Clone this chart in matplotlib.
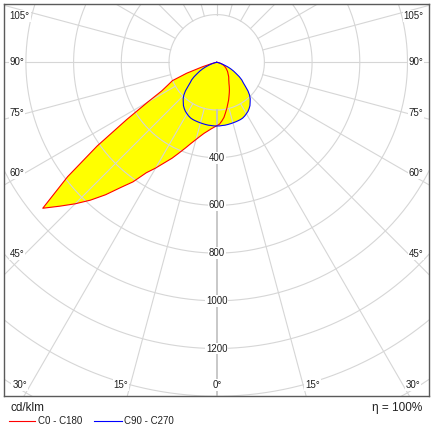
import numpy as np
import matplotlib.pyplot as plt
from matplotlib.lines import Line2D

plt.rcParams['font.family'] = ['Liberation Sans', 'DejaVu Sans']

# luminous intensity (cd/klm) against gamma angle, 2.5 deg steps from 0 to 90
gamma = np.arange(0, 90.1, 2.5)
c180 = [266, 273, 281, 291, 302, 317, 335, 356, 382, 411, 444, 475, 512, 549,
        612, 662, 725, 784, 839, 893, 952, 788, 612, 449, 335, 260, 226, 201,
        134, 63, 25, 8, 0, 0, 0, 0, 0]
c0 = [266, 260, 247, 233, 214, 197, 180, 166, 151, 138, 126, 114, 103, 95,
      88, 83, 78, 72, 67, 63, 59, 54, 50, 46, 42, 38, 34, 30, 25, 21, 17, 12,
      8, 5, 2, 1, 0]
c90 = [267, 267, 266, 266, 265, 264, 263, 262, 261, 260, 258, 254, 249, 244,
       237, 229, 218, 208, 195, 178, 157, 140, 128, 112, 94, 80, 65, 50, 34,
       22, 13, 6, 0, 0, 0, 0, 0]
c270 = [267, 267, 266, 266, 265, 264, 263, 262, 261, 260, 258, 254, 249, 244,
        237, 229, 218, 208, 195, 178, 157, 140, 128, 112, 94, 80, 65, 50, 34,
        22, 13, 6, 0, 0, 0, 0, 0]

ring_values = [400, 600, 800, 1000, 1200]
side_labels = ['105°', '90°', '75°', '60°', '45°']
bottom_labels = ['30°', '15°', '0°', '15°', '30°']

# pixel layout of the reference
W, H = 436, 428
CX, CY = 216.7, 62.3          # pole of the diagram, in pixels
S = 200 / 47.7                # cd/klm per pixel
BOX = (4, 4, 429, 396)        # left, top, right, bottom


def px(xp, yp):
    return (xp - CX) * S, (CY - yp) * S


def outline(left, right):
    g = np.radians(gamma)
    left = np.asarray(left, float)
    right = np.asarray(right, float)
    x = np.concatenate([-left[::-1] * np.sin(g[::-1]), right * np.sin(g)])
    y = np.concatenate([-left[::-1] * np.cos(g[::-1]), -right * np.cos(g)])
    return x, y


fig = plt.figure(figsize=(W / 100, H / 100), dpi=100)
l, t, r, b = BOX
ax = fig.add_axes([l / W, (H - b) / H, (r - l) / W, (b - t) / H])
x0, y1 = px(l, t)
x1, y0 = px(r, b)
ax.set_xlim(x0, x1)
ax.set_ylim(y0, y1)
ax.set_xticks([])
ax.set_yticks([])
for sp in ax.spines.values():
    sp.set_color('#5a5a5a')
    sp.set_linewidth(1.0)

grid_col = '#d6d6d6'

# yellow fill of both planes
xa, ya = outline(c180, c0)
xb, yb = outline(c270, c90)
ax.fill(xa, ya, color='#ffff00', lw=0, zorder=1)
ax.fill(xb, yb, color='#ffff00', lw=0, zorder=1)

# rings
th = np.linspace(0, 2 * np.pi, 721)
for rv in range(200, 2001, 200):
    ax.plot(rv * np.sin(th), rv * np.cos(th), color=grid_col, lw=0.8, zorder=2)

# spokes every 15 deg, starting at the 200 ring
for a in range(0, 360, 15):
    ar = np.radians(a)
    col, lw = (grid_col, 0.8) if a != 0 else ('#c4c4c4', 1.3)
    ax.plot([200 * np.sin(ar), 2500 * np.sin(ar)],
            [-200 * np.cos(ar), -2500 * np.cos(ar)],
            color=col, lw=lw, zorder=2)

ax.plot(xa, ya, color='#ff0000', lw=0.8, zorder=3)
ax.plot(xb, yb, color='#0000ff', lw=0.8, zorder=3)

box = dict(facecolor='white', edgecolor='none', pad=0.6)
for rv in ring_values:
    ax.text(0, -rv, str(rv), ha='center', va='center', fontsize=7,
            color='#202020', bbox=box, zorder=5)

side_y = [16, 62.3, 113.3, 173.3, 254.3]
for lab, yp in zip(side_labels, side_y):
    ax.text(*px(9.5, yp), lab, ha='left', va='center', fontsize=7,
            color='#202020', bbox=box, zorder=5)
    ax.text(*px(423.5, yp), lab, ha='right', va='center', fontsize=7,
            color='#202020', bbox=box, zorder=5)

bottom_x = [19.7, 121, 217, 312.7, 413]
for lab, xp in zip(bottom_labels, bottom_x):
    ax.text(*px(xp, 385), lab, ha='center', va='center', fontsize=7,
            color='#202020', bbox=box, zorder=5)

# captions and legend under the frame
fig.text(10 / W, 1 - 408 / H, 'cd/klm', ha='left', va='center', fontsize=8.5,
         color='#202020')
fig.text(422 / W, 1 - 408 / H, 'η = 100%', ha='right', va='center',
         fontsize=8.5, color='#202020')
fig.add_artist(Line2D([9 / W, 35 / W], [1 - 420.7 / H] * 2, color='#ff0000',
                      lw=0.8, transform=fig.transFigure))
fig.text(38 / W, 1 - 421 / H, 'C0 - C180', ha='left', va='center', fontsize=7,
         color='#202020')
fig.add_artist(Line2D([94 / W, 122 / W], [1 - 420.7 / H] * 2, color='#0000ff',
                      lw=0.8, transform=fig.transFigure))
fig.text(124 / W, 1 - 421 / H, 'C90 - C270', ha='left', va='center',
         fontsize=7, color='#202020')

fig.savefig('out.png', dpi=100, facecolor='white')
